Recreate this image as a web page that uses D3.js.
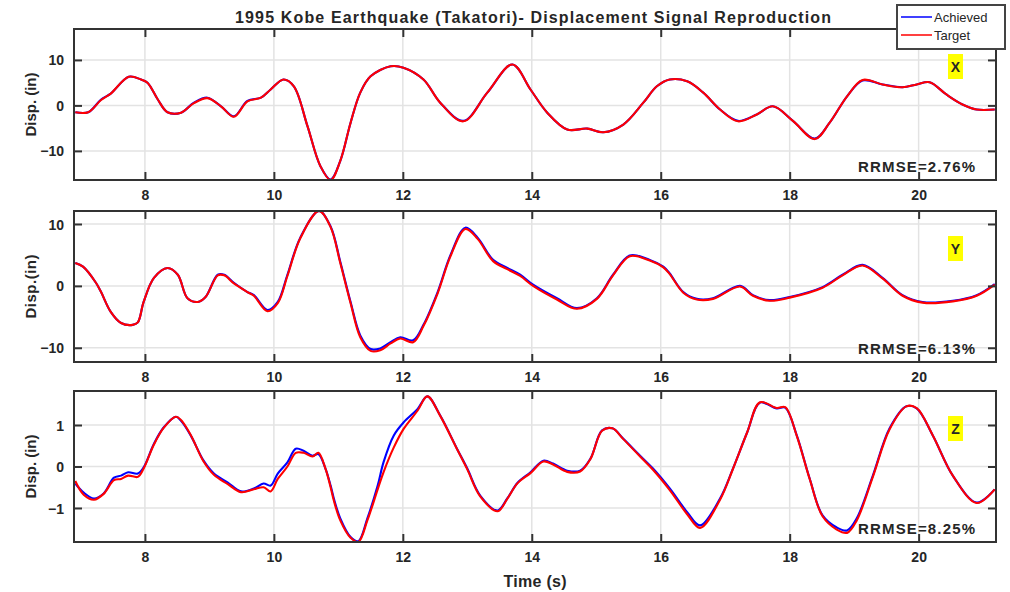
<!DOCTYPE html>
<html>
<head>
<meta charset="utf-8">
<script src="https://cdn.jsdelivr.net/npm/d3@7/dist/d3.min.js"></script>
<style>
  body { margin: 0; background: #fff; }
  svg text { font-family: "Liberation Sans", Arial, sans-serif; fill: #262626; }
</style>
</head>
<body>
<svg id="chart" width="1010" height="592"></svg>
<script>
// ---- Takatori record, time window 6.9 s to 21.2 s ----
const xTicks = [8, 10, 12, 14, 16, 18, 20];

// X direction (in)
const timeX = [6.92,7.12,7.32,7.47,7.75,7.94,8.04,8.2,8.35,8.56,8.76,8.97,9.18,9.38,9.59,9.8,9.95,10.15,10.31,10.52,10.72,10.88,11.03,11.19,11.34,11.5,11.81,12.01,12.32,12.58,12.94,13.31,13.7,13.98,14.24,14.55,14.86,15.11,15.42,15.73,15.94,16.14,16.41,16.66,16.92,17.2,17.49,17.74,18.05,18.39,18.62,18.89,19.13,19.44,19.75,19.97,20.17,20.43,20.68,20.9,21.18];
const achievedX = [-1.5,-1.5,1.3,2.6,6.3,5.7,5.0,1.3,-1.5,-1.6,0.6,1.7,-0.2,-2.4,1.0,1.7,3.5,5.7,4.2,-4.5,-13.3,-16.3,-12.2,-3.8,2.8,6.4,8.6,8.3,5.7,0.6,-3.4,2.8,9.0,3.5,-1.6,-5.3,-5.1,-5.9,-4.2,0.6,4.2,5.7,5.3,2.8,-0.9,-3.4,-2.0,-0.2,-3.4,-7.3,-3.8,2.0,5.5,4.6,4.0,4.6,5.1,2.4,0.2,-0.9,-0.9];
const targetX   = [-1.5,-1.5,1.2,2.6,6.3,5.7,5.0,1.3,-1.5,-1.6,0.5,1.6,-0.2,-2.5,0.9,1.7,3.5,5.7,4.2,-4.5,-13.3,-16.4,-12.2,-3.8,2.8,6.4,8.6,8.3,5.7,0.6,-3.5,2.8,9.0,3.5,-1.6,-5.3,-5.1,-5.9,-4.2,0.6,4.2,5.7,5.3,2.8,-0.9,-3.5,-2.0,-0.2,-3.4,-7.4,-3.8,2.0,5.6,4.6,4.0,4.6,5.1,2.4,0.2,-0.9,-0.9];

// Y direction (in)
const timeY = [6.92,7.04,7.24,7.32,7.47,7.63,7.81,7.89,7.98,8.14,8.35,8.51,8.66,8.82,8.94,9.13,9.23,9.38,9.59,9.69,9.9,10.06,10.21,10.41,10.7,10.88,11.03,11.19,11.34,11.5,11.65,11.81,11.96,12.16,12.32,12.54,12.74,12.97,13.16,13.4,13.62,13.82,14.02,14.39,14.7,15.01,15.26,15.52,15.83,16.04,16.14,16.35,16.56,16.81,17.23,17.43,17.69,18.0,18.51,18.82,19.13,19.44,19.75,20.06,20.53,20.9,21.18];
const achievedY = [3.7,3.1,0.5,-1.0,-4.2,-6.0,-6.3,-5.9,-2.6,1.3,2.9,1.8,-2.0,-2.6,-1.8,1.8,1.8,0.5,-1.0,-1.5,-3.9,-2.6,1.8,7.8,12.1,9.6,3.9,-2.6,-8.0,-10.2,-10.1,-9.1,-8.3,-8.8,-6.3,-1.0,5.0,9.4,7.8,4.2,2.9,1.8,0.2,-2.0,-3.6,-2.0,1.8,4.9,4.2,3.1,2.0,-1.0,-2.1,-2.0,0.0,-1.5,-2.3,-1.8,-0.2,1.8,3.4,1.3,-1.5,-2.6,-2.4,-1.5,0.3];
const targetY   = [3.7,3.1,0.5,-1.0,-4.2,-6.0,-6.3,-5.9,-2.6,1.3,2.9,1.8,-2.0,-2.6,-1.8,1.7,1.7,0.4,-1.0,-1.6,-4.1,-2.8,1.6,7.7,12.1,9.5,3.7,-2.8,-8.3,-10.5,-10.4,-9.3,-8.5,-9.1,-6.5,-1.2,4.8,9.2,7.6,4.0,2.7,1.6,0.0,-2.2,-3.7,-2.1,1.7,4.8,4.1,3.0,1.9,-1.1,-2.2,-2.1,-0.1,-1.6,-2.4,-1.9,-0.3,1.7,3.3,1.2,-1.6,-2.7,-2.5,-1.6,0.2];

// Z direction (in)
const timeZ = [6.92,7.05,7.21,7.36,7.52,7.63,7.74,7.89,7.98,8.14,8.29,8.48,8.56,8.71,8.91,9.07,9.28,9.49,9.69,9.84,9.95,10.06,10.21,10.34,10.46,10.6,10.69,10.8,10.88,10.93,11.03,11.19,11.31,11.45,11.61,11.7,11.86,12.01,12.23,12.38,12.58,12.84,13.0,13.2,13.47,13.62,13.78,13.98,14.18,14.33,14.55,14.75,14.91,15.09,15.25,15.42,15.68,15.88,16.14,16.41,16.61,16.92,17.12,17.34,17.54,17.8,17.93,18.11,18.31,18.51,18.73,18.89,19.04,19.29,19.55,19.81,19.97,20.22,20.53,20.9,21.18];
const achievedZ = [-0.41,-0.63,-0.77,-0.65,-0.27,-0.22,-0.14,-0.17,-0.02,0.55,0.94,1.2,1.1,0.75,0.14,-0.17,-0.38,-0.6,-0.53,-0.41,-0.46,-0.17,0.1,0.43,0.38,0.26,0.3,-0.05,-0.46,-0.77,-1.25,-1.7,-1.8,-1.25,-0.46,0.1,0.75,1.06,1.39,1.69,1.23,0.43,-0.05,-0.7,-1.06,-0.77,-0.39,-0.14,0.14,0.07,-0.1,-0.1,0.19,0.87,0.92,0.67,0.26,-0.05,-0.53,-1.1,-1.42,-0.77,-0.05,0.82,1.54,1.4,1.42,0.75,-0.29,-1.18,-1.47,-1.54,-1.25,-0.22,0.92,1.45,1.4,0.75,-0.22,-0.87,-0.55];
const targetZ   = [-0.35,-0.68,-0.8,-0.66,-0.33,-0.3,-0.22,-0.25,-0.05,0.53,0.93,1.2,1.12,0.76,0.12,-0.2,-0.42,-0.62,-0.55,-0.5,-0.6,-0.3,0.0,0.33,0.33,0.24,0.33,-0.05,-0.5,-0.82,-1.3,-1.72,-1.82,-1.3,-0.55,-0.14,0.46,0.9,1.35,1.69,1.22,0.42,-0.07,-0.72,-1.08,-0.78,-0.4,-0.16,0.12,0.05,-0.13,-0.12,0.18,0.86,0.92,0.66,0.24,-0.08,-0.57,-1.15,-1.48,-0.8,-0.06,0.82,1.55,1.41,1.43,0.74,-0.3,-1.2,-1.52,-1.6,-1.3,-0.25,0.9,1.45,1.41,0.75,-0.22,-0.88,-0.55];

const seriesNames = ["Achieved", "Target"];
const seriesColors = ["#0000ff", "#ff0000"];

const panelNames = ["X", "Y", "Z"];
const panelTimes = [timeX, timeY, timeZ];
const panelAchieved = [achievedX, achievedY, achievedZ];
const panelTarget = [targetX, targetY, targetZ];
const panelYDomains = [[-16.4, 16.8], [-12.3, 12.1], [-1.82, 1.82]];
const panelYTicks = [[-10, 0, 10], [-10, 0, 10], [-1, 0, 1]];
const panelYLabels = ["Disp. (in)", "Disp.(in)", "Disp. (in)"];
const panelRRMSE = ["RRMSE=2.76%", "RRMSE=6.13%", "RRMSE=8.25%"];

// ---- layout ----
const svg = d3.select("#chart");
const left = 74, right = 996;
const panelTops = [29, 211, 391];
const panelHeight = 151;
const x = d3.scaleLinear().domain([6.9, 21.2]).range([left, right]);
const tickLen = 8;

panelNames.forEach((name, i) => {
  const top = panelTops[i], bottom = top + panelHeight;
  const y = d3.scaleLinear().domain(panelYDomains[i]).range([bottom, top]);
  const g = svg.append("g");

  const clipId = "clip" + name;
  svg.append("clipPath").attr("id", clipId)
    .append("rect").attr("x", left).attr("y", top - 1).attr("width", right - left).attr("height", panelHeight + 2);

  // grid
  g.append("g").selectAll("line").data(xTicks).join("line")
    .attr("x1", d => x(d)).attr("x2", d => x(d)).attr("y1", top).attr("y2", bottom)
    .attr("stroke", "#e3e3e3").attr("stroke-width", 1.5);
  g.append("g").selectAll("line").data(panelYTicks[i]).join("line")
    .attr("x1", left).attr("x2", right).attr("y1", d => y(d)).attr("y2", d => y(d))
    .attr("stroke", "#e3e3e3").attr("stroke-width", 1.5);

  // signals
  const t = panelTimes[i];
  const line = d3.line().x(d => x(d[0])).y(d => y(d[1])).curve(d3.curveCatmullRom.alpha(0.5));
  [panelAchieved[i], panelTarget[i]].forEach((vals, k) => {
    g.append("path")
      .datum(t.map((tt, j) => [tt, vals[j]]))
      .attr("d", line)
      .attr("clip-path", `url(#${clipId})`)
      .attr("fill", "none")
      .attr("stroke", seriesColors[k])
      .attr("stroke-width", 2.1)
      .attr("stroke-linejoin", "round");
  });

  // boxed axes, ticks pointing inward on all four sides
  const axB = g.append("g").attr("transform", `translate(0,${bottom})`)
    .call(d3.axisBottom(x).tickValues(xTicks).tickFormat(d3.format("d")).tickSizeInner(-tickLen).tickSizeOuter(0).tickPadding(10));
  const axT = g.append("g").attr("transform", `translate(0,${top})`)
    .call(d3.axisTop(x).tickValues(xTicks).tickFormat("").tickSizeInner(-tickLen).tickSizeOuter(0));
  const axL = g.append("g").attr("transform", `translate(${left},0)`)
    .call(d3.axisLeft(y).tickValues(panelYTicks[i]).tickFormat(d3.format("d")).tickSizeInner(-tickLen).tickSizeOuter(0).tickPadding(10));
  const axR = g.append("g").attr("transform", `translate(${right},0)`)
    .call(d3.axisRight(y).tickValues(panelYTicks[i]).tickFormat("").tickSizeInner(-tickLen).tickSizeOuter(0));
  [axB, axT, axL, axR].forEach(a => {
    a.select(".domain").remove();
    a.selectAll(".tick line").attr("stroke", "#333").attr("stroke-width", 2);
    a.selectAll(".tick text").attr("font-size", 14).attr("font-weight", "bold").attr("fill", "#262626");
  });
  axL.selectAll(".tick text").attr("dy", "0.36em");

  // frame
  g.append("rect").attr("x", left).attr("y", top).attr("width", right - left).attr("height", panelHeight)
    .attr("fill", "none").attr("stroke", "#333").attr("stroke-width", 2);

  // y label
  g.append("text")
    .attr("transform", `translate(31,${(top + bottom) / 2}) rotate(-90)`)
    .attr("text-anchor", "middle").attr("dy", "0.35em")
    .attr("font-size", 15).attr("font-weight", "bold")
    .attr("textLength", 64).attr("lengthAdjust", "spacing")
    .text(panelYLabels[i]);

  // direction tag
  g.append("rect").attr("x", 948).attr("y", top + 25).attr("width", 15).attr("height", 25).attr("fill", "#ffff00");
  g.append("text").attr("x", 955.5).attr("y", top + 37.5).attr("dy", "0.36em")
    .attr("text-anchor", "middle").attr("font-size", 14).attr("font-weight", "bold").attr("fill", "#111")
    .text(name);

  // error metric
  g.append("text").attr("x", 858).attr("y", bottom - 8)
    .attr("font-size", 15).attr("font-weight", "bold")
    .attr("textLength", 117).attr("lengthAdjust", "spacing")
    .text(panelRRMSE[i]);
});

// title
svg.append("text").attr("x", 533).attr("y", 23).attr("text-anchor", "middle")
  .attr("font-size", 16).attr("font-weight", "bold")
  .attr("textLength", 596).attr("lengthAdjust", "spacing")
  .text("1995 Kobe Earthquake (Takatori)- Displacement Signal Reproduction");

// x-axis title
svg.append("text").attr("x", 535).attr("y", 587).attr("text-anchor", "middle")
  .attr("font-size", 16).attr("font-weight", "bold")
  .attr("textLength", 63).attr("lengthAdjust", "spacing")
  .text("Time (s)");

// legend
const lg = svg.append("g");
lg.append("rect").attr("x", 897).attr("y", 5).attr("width", 108).attr("height", 44)
  .attr("fill", "#fff").attr("stroke", "#444").attr("stroke-width", 2);
seriesNames.forEach((s, k) => {
  const yy = 17 + k * 18;
  lg.append("line").attr("x1", 901).attr("x2", 932).attr("y1", yy).attr("y2", yy)
    .attr("stroke", seriesColors[k]).attr("stroke-width", 1.5);
  lg.append("text").attr("x", 934).attr("y", yy).attr("dy", "0.36em")
    .attr("font-size", 13).attr("fill", "#1c1c3a").text(s);
});
</script>
</body>
</html>
